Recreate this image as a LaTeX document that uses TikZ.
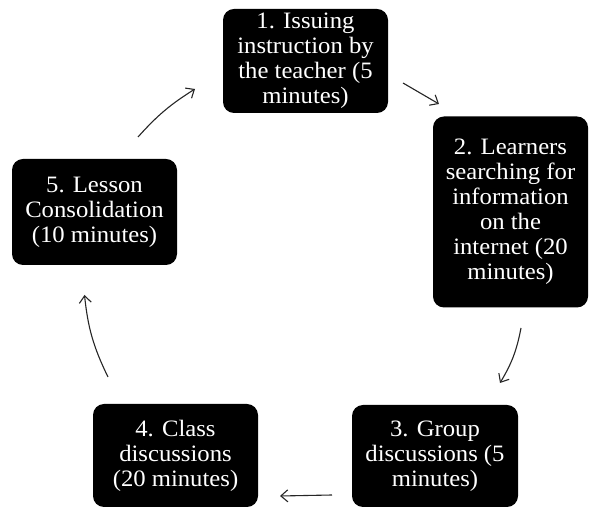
\documentclass[tikz,border=0pt]{standalone}
\usepackage{fontspec}
\setmainfont[FakeStretch=1.05]{Liberation Serif}
\usetikzlibrary{arrows.meta}
\begin{document}
\begin{tikzpicture}[x=1pt,y=1pt,
  stepbox/.style={fill=black, rounded corners=11pt, inner sep=0pt, text=white,
    align=center, font=\fontsize{23.5pt}{25pt}\selectfont},
  arr/.style={draw=black!85, line width=1.1pt, -{Straight Barb[length=7pt,width=12pt,line width=1.1pt]}}]
\useasboundingbox (0,0) rectangle (589,508);
\node[stepbox, minimum width=165pt, minimum height=104pt] (n1) at (305.5,447) {1. Issuing\\instruction by\\the teacher (5\\minutes)};
\node[stepbox, minimum width=155pt, minimum height=191pt] (n2) at (510.5,296) {2. Learners\\searching for\\information\\on the\\internet (20\\minutes)};
\node[stepbox, minimum width=166pt, minimum height=102pt] (n3) at (435,52) {3. Group\\discussions (5\\minutes)};
\node[stepbox, minimum width=165pt, minimum height=103pt] (n4) at (175.5,52.5) {4. Class\\discussions\\(20 minutes)};
\node[stepbox, minimum width=165pt, minimum height=106pt] (n5) at (94.5,296) {5. Lesson\\Consolidation\\(10 minutes)};
\coordinate (a1s) at (403,425);
\coordinate (a1e) at (439,404);
\coordinate (a2s) at (521,180);
\coordinate (a2e) at (500,125);
\coordinate (a3s) at (332,13);
\coordinate (a3e) at (280,12);
\coordinate (a4s) at (108,131);
\coordinate (a4e) at (84.5,213);
\coordinate (a5s) at (138,371);
\coordinate (a5e) at (195,419);
\draw[arr] (a1s) -- (a1e);
\draw[arr] (a2s) to[bend left=10] (a2e);
\draw[arr] (a3s) -- (a3e);
\draw[arr] (a4s) to[bend left=10] (a4e);
\draw[arr] (a5s) to[bend left=8] (a5e);
\end{tikzpicture}
\end{document}
